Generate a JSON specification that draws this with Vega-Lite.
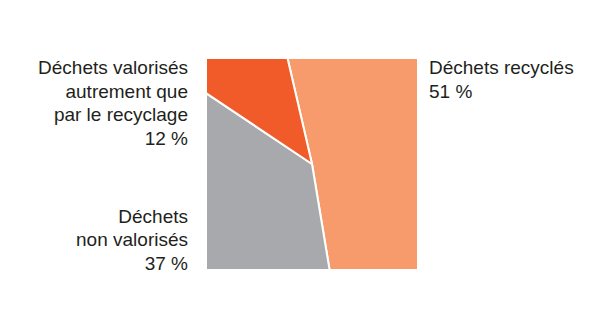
{
  "$schema": "https://vega.github.io/schema/vega-lite/v6.json",
  "width": 210,
  "height": 210,
  "autosize": {"type": "none"},
  "padding": {"left": 207, "top": 59, "right": 187, "bottom": 51},
  "background": "white",
  "config": {"view": {"stroke": null}},
  "data": {
    "values": [
      {"categorie": "Déchets recyclés", "valeur": 51, "rang": 1, "libelle": ["Déchets recyclés", "51 %"]},
      {"categorie": "Déchets non valorisés", "valeur": 37, "rang": 2, "libelle": ["Déchets", "non valorisés", "37 %"]},
      {"categorie": "Déchets valorisés autrement que par le recyclage", "valeur": 12, "rang": 3, "libelle": ["Déchets valorisés", "autrement que", "par le recyclage", "12 %"]}
    ]
  },
  "layer": [
    {
      "mark": {"type": "arc", "outerRadius": 160, "clip": true, "stroke": "white", "strokeWidth": 2, "strokeJoin": "round"},
      "encoding": {
        "theta": {"field": "valeur", "type": "quantitative", "stack": true, "scale": {"domain": [0, 100], "range": [-0.2274, 6.0558]}},
        "order": {"field": "rang", "type": "quantitative"},
        "color": {
          "field": "categorie", "type": "nominal", "legend": null,
          "scale": {
            "domain": ["Déchets recyclés", "Déchets non valorisés", "Déchets valorisés autrement que par le recyclage"],
            "range": ["#F79B6D", "#A7A9AC", "#F15A29"]
          }
        }
      }
    },
    {
      "transform": [{"filter": "datum.categorie != 'Déchets recyclés'"}],
      "mark": {"type": "text", "align": "right", "baseline": "alphabetic", "font": "Liberation Sans", "fontSize": 19, "lineHeight": 23.5, "color": "#231F20"},
      "encoding": {
        "x": {"field": "categorie", "type": "nominal", "axis": null, "scale": {"type": "point", "range": [-19, -19]}},
        "y": {"field": "categorie", "type": "nominal", "axis": null, "scale": {"type": "point", "padding": 0, "domain": ["Déchets valorisés autrement que par le recyclage", "Déchets non valorisés"], "range": [15, 163.5]}},
        "text": {"field": "libelle"}
      }
    },
    {
      "transform": [{"filter": "datum.categorie == 'Déchets recyclés'"}],
      "mark": {"type": "text", "align": "left", "baseline": "alphabetic", "font": "Liberation Sans", "fontSize": 19, "lineHeight": 23.5, "color": "#231F20"},
      "encoding": {
        "x": {"field": "categorie", "type": "nominal", "axis": null, "scale": {"type": "point", "range": [222, 222]}},
        "y": {"field": "categorie", "type": "nominal", "axis": null, "scale": {"type": "point", "range": [15, 15]}},
        "text": {"field": "libelle"}
      }
    }
  ],
  "resolve": {"scale": {"x": "independent", "y": "independent"}}
}
